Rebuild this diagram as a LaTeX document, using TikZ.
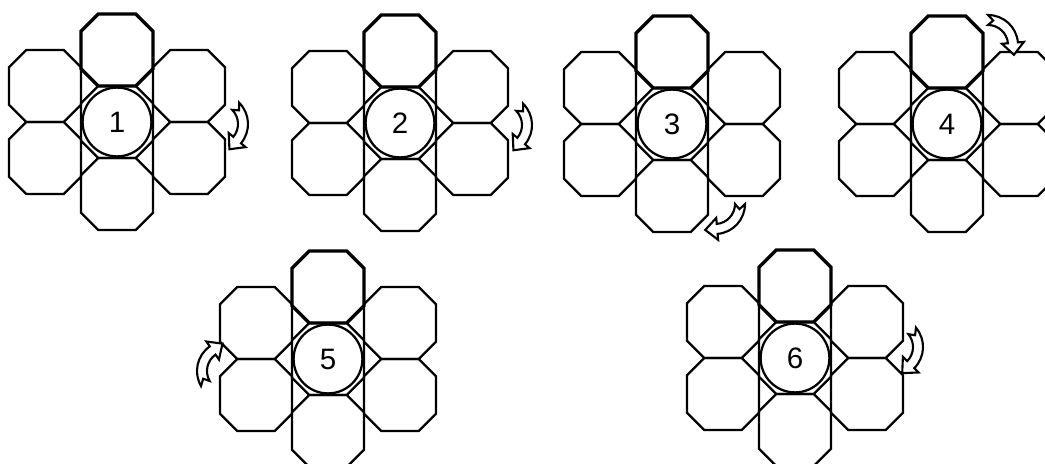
\documentclass[tikz,border=0pt]{standalone}
\usepackage{fontspec}
\setmainfont{Liberation Sans}
\tikzset{
  oct/.style={line width=1.6pt, line join=miter},
  octbold/.style={line width=2.4pt, line join=miter},
  numcircle/.style={circle, draw, fill=white, line width=1.6pt, minimum size=1.72cm, inner sep=0pt, font=\fontsize{21}{21}\selectfont},
  rotarr/.style={draw, fill=white, line width=1.5pt, line join=miter},
}
\newcommand\drawoct[3]{\draw[#1] (#2-0.26,#3-0.5) -- (#2+0.26,#3-0.5) -- (#2+0.5,#3-0.26) -- (#2+0.5,#3+0.26) -- (#2+0.26,#3+0.5) -- (#2-0.26,#3+0.5) -- (#2-0.5,#3+0.26) -- (#2-0.5,#3-0.26) -- cycle;}
\newcommand\rotarrow[3]{\path[rotarr, shift={(#1,#2)}, rotate=#3] (-45:30) arc[start angle=-45, end angle=40, radius=30] -- (40:36) -- (11.44,25.26) -- (40:14) -- (40:20) arc[start angle=40, end angle=-45, radius=20] -- (-33:25) -- cycle;}
\begin{document}
\begin{tikzpicture}[x=0.025cm, y=-0.025cm]
\clip (0,0) rectangle (1045,464);
\fill[white] (0,0) rectangle (1045,464);
\foreach \X/\Y/\n in {117/122/1, 400/123/2, 672/124/3, 947/124/4, 328/359/5, 795/358/6}{
  \begin{scope}[shift={(\X,\Y)}, scale=72]
    \drawoct{oct}{0}{0}
    \drawoct{oct}{0}{1}
    \drawoct{oct}{-1}{-0.5}
    \drawoct{oct}{-1}{0.5}
    \drawoct{oct}{1}{-0.5}
    \drawoct{oct}{1}{0.5}
    \draw[oct] (-0.5,-1.25) -- (-0.5,1.25);
    \draw[oct] (0.5,-1.25) -- (0.5,1.25);
    \drawoct{octbold}{0}{-1}
    \node[numcircle] (n\n) at (0,0) {\n};
  \end{scope}
}
\rotarrow{218}{124}{0}
\rotarrow{502}{125}{0}
\rotarrow{715}{204}{-45}
\rotarrow{988}{45}{45}
\rotarrow{227}{371}{-195}
\rotarrow{893}{347}{-5}
\end{tikzpicture}
\end{document}
